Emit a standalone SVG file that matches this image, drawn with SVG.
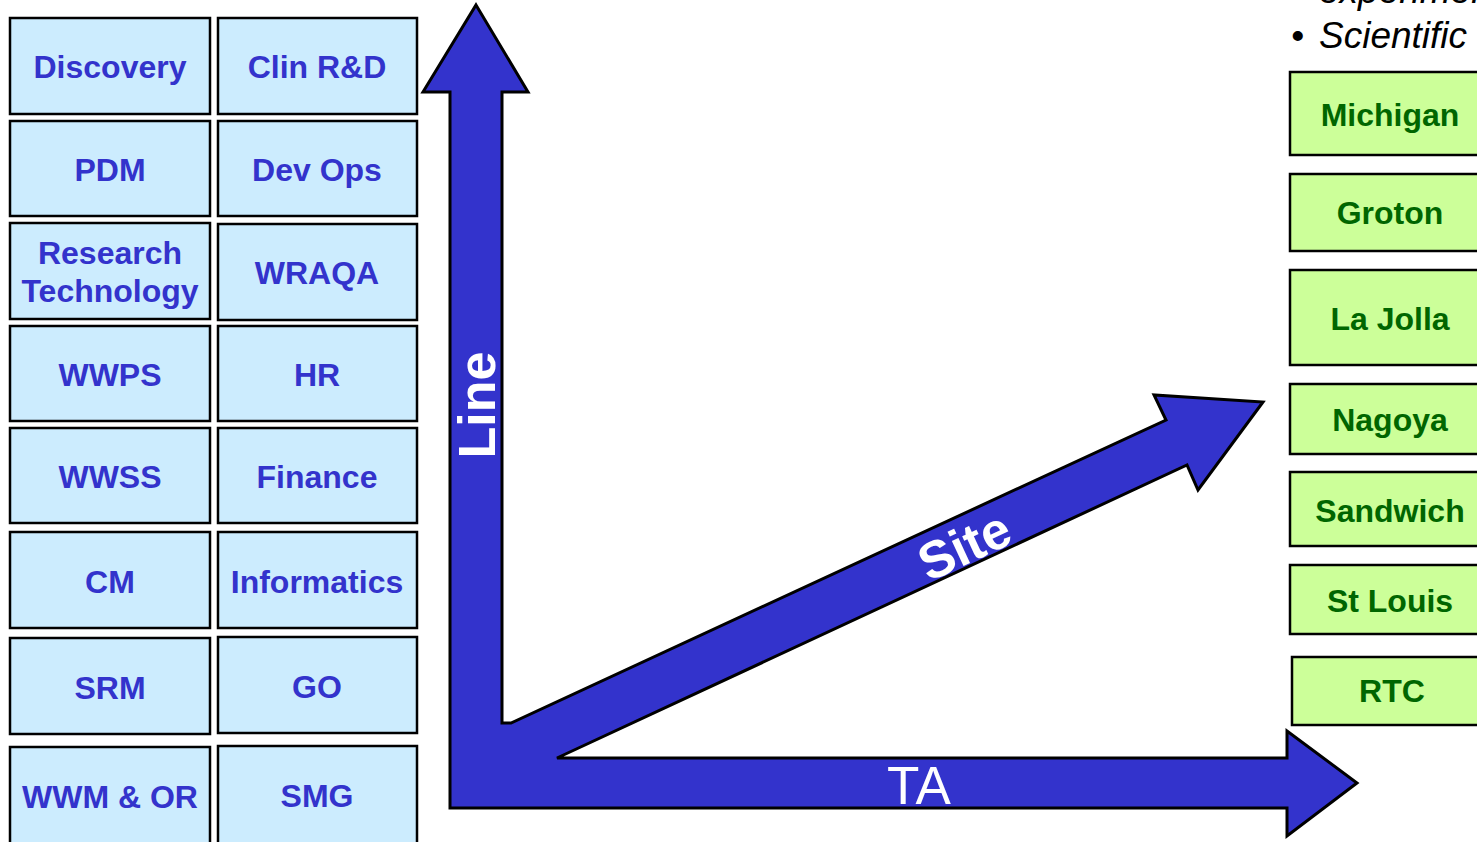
<svg xmlns="http://www.w3.org/2000/svg" width="1477" height="842" viewBox="0 0 1477 842">
<style>
.b{fill:#ccecfe;stroke:#000;stroke-width:2.5}
.g{fill:#ccff99;stroke:#000;stroke-width:2.5}
.bt{font-family:"Liberation Sans",Arial,sans-serif;font-weight:bold;font-size:32px;fill:#3333cc;text-anchor:middle}
.gt{font-family:"Liberation Sans",Arial,sans-serif;font-weight:bold;font-size:32px;fill:#006600;text-anchor:middle}
.at{font-family:"Liberation Sans",Arial,sans-serif;fill:#fff;text-anchor:middle}
.it{font-family:"Liberation Sans",Arial,sans-serif;font-style:italic;font-size:37px;fill:#000}
</style>
<rect width="1477" height="842" fill="#fff"/>
<g id="connectors">
<path d="M476,5 L528,92 L502,92 L502,723 L511,723 L1166,420 L1154,395 L1263,402 L1198,490 L1187,465 L557,758 L1287,758 L1287,731 L1357,783 L1287,836 L1287,808 L450,808 L450,92 L423,92 Z" fill="#3333cc" stroke="#000" stroke-width="3" stroke-linejoin="miter"/>
<text class="at" font-weight="bold" font-size="52" transform="translate(495,405) rotate(-90)">Line</text>
<text class="at" font-weight="bold" font-size="52" transform="translate(972,562) rotate(-25)">Site</text>
<text class="at" font-size="53" x="919" y="804">TA</text>
</g>
<g id="n-discovery"><rect class="b" x="10" y="18" width="200" height="96"/><text class="bt" x="110" y="78">Discovery</text></g>
<g id="n-clinrd"><rect class="b" x="218" y="18" width="199" height="96"/><text class="bt" x="317" y="78">Clin R&amp;D</text></g>
<g id="n-pdm"><rect class="b" x="10" y="121" width="200" height="95"/><text class="bt" x="110" y="181">PDM</text></g>
<g id="n-devops"><rect class="b" x="218" y="121" width="199" height="95"/><text class="bt" x="317" y="181">Dev Ops</text></g>
<g id="n-research"><rect class="b" x="10" y="223" width="200" height="96"/><text class="bt" x="110" y="264">Research</text><text class="bt" x="110" y="302">Technology</text></g>
<g id="n-wraqa"><rect class="b" x="218" y="224" width="199" height="96"/><text class="bt" x="317" y="284">WRAQA</text></g>
<g id="n-wwps"><rect class="b" x="10" y="326" width="200" height="95"/><text class="bt" x="110" y="386">WWPS</text></g>
<g id="n-hr"><rect class="b" x="218" y="326" width="199" height="95"/><text class="bt" x="317" y="386">HR</text></g>
<g id="n-wwss"><rect class="b" x="10" y="428" width="200" height="95"/><text class="bt" x="110" y="488">WWSS</text></g>
<g id="n-finance"><rect class="b" x="218" y="428" width="199" height="95"/><text class="bt" x="317" y="488">Finance</text></g>
<g id="n-cm"><rect class="b" x="10" y="532" width="200" height="96"/><text class="bt" x="110" y="593">CM</text></g>
<g id="n-informatics"><rect class="b" x="218" y="532" width="199" height="96"/><text class="bt" x="317" y="593">Informatics</text></g>
<g id="n-srm"><rect class="b" x="10" y="638" width="200" height="96"/><text class="bt" x="110" y="699">SRM</text></g>
<g id="n-go"><rect class="b" x="218" y="637" width="199" height="96"/><text class="bt" x="317" y="698">GO</text></g>
<g id="n-wwmor"><rect class="b" x="10" y="747" width="200" height="100"/><text class="bt" x="110" y="808">WWM &amp; OR</text></g>
<g id="n-smg"><rect class="b" x="218" y="746" width="199" height="100"/><text class="bt" x="317" y="807">SMG</text></g>
<g id="n-michigan"><rect class="g" x="1290" y="72" width="200" height="83"/><text class="gt" x="1390" y="126">Michigan</text></g>
<g id="n-groton"><rect class="g" x="1290" y="174" width="200" height="77"/><text class="gt" x="1390" y="224">Groton</text></g>
<g id="n-lajolla"><rect class="g" x="1290" y="270" width="200" height="95"/><text class="gt" x="1390" y="330">La Jolla</text></g>
<g id="n-nagoya"><rect class="g" x="1290" y="384" width="200" height="70"/><text class="gt" x="1390" y="431">Nagoya</text></g>
<g id="n-sandwich"><rect class="g" x="1290" y="472" width="200" height="74"/><text class="gt" x="1390" y="522">Sandwich</text></g>
<g id="n-stlouis"><rect class="g" x="1290" y="565" width="200" height="69"/><text class="gt" x="1390" y="612">St Louis</text></g>
<g id="n-rtc"><rect class="g" x="1292" y="657" width="200" height="68"/><text class="gt" x="1392" y="702">RTC</text></g>
<g id="notes">
<text class="it" x="1319" y="3">experimen</text>
<text class="it" x="1291" y="48" font-style="normal">•</text>
<text class="it" x="1319" y="48">Scientific</text>
</g>
</svg>
